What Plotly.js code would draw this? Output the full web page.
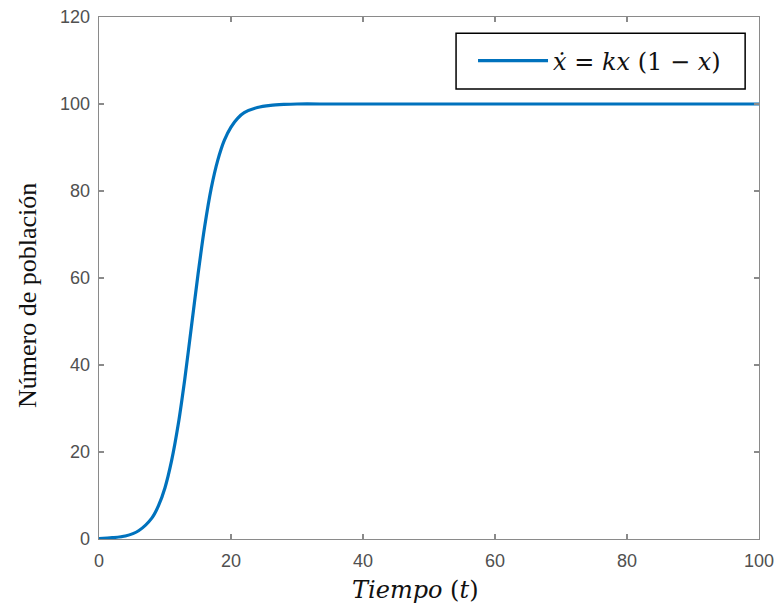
<!DOCTYPE html>
<html>
<head>
<meta charset="utf-8">
<script src="https://cdn.plot.ly/plotly-3.0.1.min.js"></script>
<style>
html,body{margin:0;padding:0;background:#fff;}
#chart{width:779px;height:605px;}
</style>
</head>
<body>
<div id="chart"></div>
<script>
// Values
const tiempo = [0, 2, 4, 6, 8, 9, 10, 11, 12, 13, 14, 15, 16, 17, 18, 19, 20, 21, 22, 24, 26, 28, 30, 35, 40, 50, 60, 70, 80, 90, 100];
const poblacion = [0.1, 0.3, 0.7, 1.9, 4.8, 7.6, 11.8, 18, 26.3, 36.8, 48.8, 60.8, 71.7, 80.6, 87.1, 91.7, 94.7, 96.7, 98, 99.2, 99.7, 99.9, 100, 100, 100, 100, 100, 100, 100, 100, 100];
const xTicks = [0, 20, 40, 60, 80, 100];
const yTicks = [0, 20, 40, 60, 80, 100, 120];
const serieNombre = '<i>ẋ</i> = <i>kx</i> (1 − <i>x</i>)';
const xTitulo = '<i>Tiempo</i> (<i>t</i>)';
const yTitulo = 'Número de población';

const axisCommon = {
  showgrid: false,
  zeroline: false,
  showline: true,
  linecolor: '#8a8a8a',
  linewidth: 1.3,
  mirror: 'ticks',
  ticks: 'inside',
  ticklen: 5,
  tickwidth: 1.2,
  tickcolor: '#8a8a8a',
  tickfont: {family: 'Liberation Sans, Arial, sans-serif', size: 18, color: '#505050'}
};

const trace = {
  x: tiempo,
  y: poblacion,
  type: 'scatter',
  mode: 'lines',
  name: serieNombre,
  line: {color: '#0072BD', width: 3.2, shape: 'spline', smoothing: 0.8}
};

const layout = {
  width: 779,
  height: 605,
  margin: {l: 99, r: 20, t: 17, b: 66},
  paper_bgcolor: '#fff',
  plot_bgcolor: '#fff',
  showlegend: true,
  legend: {
    x: 0.5667, y: 0.9157, xanchor: 'left', yanchor: 'middle',
    bgcolor: 'rgba(0,0,0,0)', borderwidth: 0,
    font: {family: 'DejaVu Serif, serif', size: 24, color: '#111'},
    itemwidth: 70
  },
  shapes: [
    {type: 'rect', xref: 'paper', yref: 'paper', x0: 0.541, x1: 0.979, y0: 0.862, y1: 0.969,
     line: {color: '#000', width: 1.5}, fillcolor: '#fff', layer: 'above'}
  ],
  xaxis: Object.assign({}, axisCommon, {
    range: [0, 100], tickvals: xTicks, ticklabelstandoff: 5
  }),
  yaxis: Object.assign({}, axisCommon, {
    range: [0, 120], tickvals: yTicks, ticklabelstandoff: 4
  }),
  annotations: [
    {text: xTitulo, xref: 'paper', yref: 'paper', x: 0.48, y: -0.097,
     xanchor: 'center', yanchor: 'middle', showarrow: false,
     font: {family: 'DejaVu Serif, serif', size: 24, color: '#111'}},
    {text: yTitulo, xref: 'paper', yref: 'paper', x: -0.109, y: 0.4655,
     xanchor: 'center', yanchor: 'middle', textangle: -90, showarrow: false,
     font: {family: 'Liberation Serif, Times New Roman, serif', size: 26, color: '#111'}}
  ]
};

Plotly.newPlot('chart', [trace], layout, {displayModeBar: false, staticPlot: true});
</script>
</body>
</html>
